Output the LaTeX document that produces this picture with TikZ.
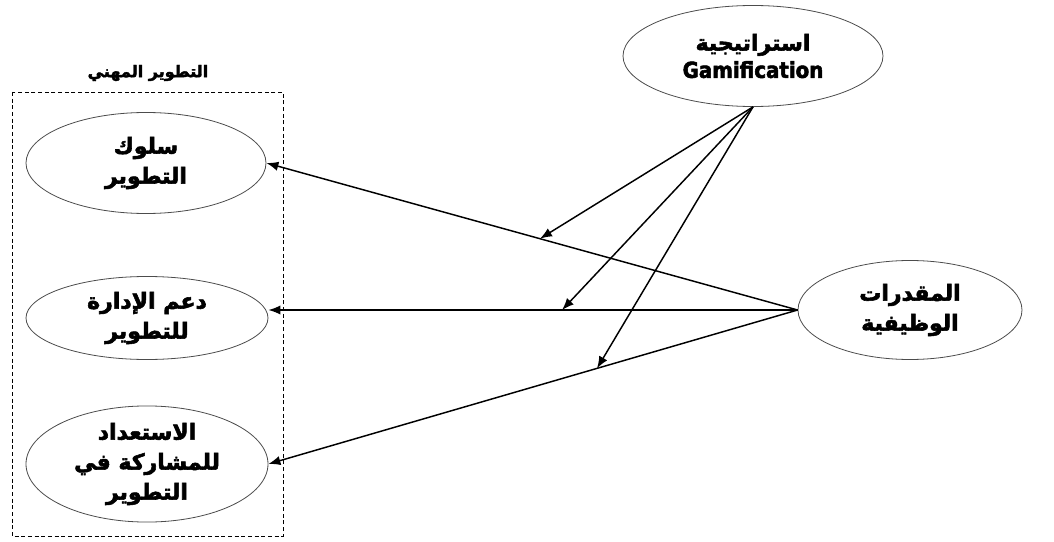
\documentclass[tikz,border=0pt]{standalone}
\usepackage{fontspec}
\usetikzlibrary{shapes.geometric,arrows.meta}
\TeXXeTstate=1
\newfontfamily\arabicfont[Script=Arabic,BoldFeatures={FakeBold=2.5}]{DejaVu Sans}
\newfontfamily\latinbold[BoldFeatures={FakeBold=2.5}]{DejaVu Sans Condensed}
\begin{document}
\begin{tikzpicture}[x=0.75pt,y=0.75pt,
  oval/.style={ellipse,draw=black!70,line width=0.6pt,inner sep=0pt,align=center,
    font=\arabicfont\bfseries\fontsize{16.5}{22.5}\selectfont},
  conn/.style={line width=1.1pt,-{Latex[length=9pt,width=7pt]}},
  grp/.style={draw,dash pattern=on 3pt off 2pt,line width=0.7pt}]
\path[use as bounding box,fill=white] (0,0) rectangle (1054,-542);
\draw[grp] (12,-92) rectangle (283,-536);
\node[font=\arabicfont\bfseries\fontsize{12}{14}\selectfont] (title) at (148,-73) {\beginR التطوير المهني\endR};
\node[oval,minimum width=195pt,minimum height=75.75pt] (g) at (753,-56)
  {\beginR استراتيجية\endR\\[-2pt]{\latinbold\bfseries Gamification}};
\node[oval,minimum width=168pt,minimum height=74.25pt] (m) at (910,-310)
  {\beginR المقدرات\endR\\\beginR الوظيفية\endR};
\node[oval,minimum width=180pt,minimum height=75.75pt] (e1) at (146,-163)
  {\beginR سلوك\endR\\\beginR التطوير\endR};
\node[oval,minimum width=181.5pt,minimum height=62.25pt] (e2) at (147,-318)
  {\beginR دعم الإدارة\endR\\\beginR للتطوير\endR};
\node[oval,minimum width=181.5pt,minimum height=76.5pt] (e3) at (147,-464)
  {\beginR الاستعداد\endR\\\beginR للمشاركة في\endR\\\beginR التطوير\endR};
\draw[conn] (m.west) -- (e1.east) coordinate[pos=0.485] (p1);
\draw[conn] (m.west) -- (e2.east |- m.west) coordinate[pos=0.445] (p2);
\draw[conn] (m.west) -- (e3.east) coordinate[pos=0.379] (p3);
\draw[conn] (g.south) -- (p1);
\draw[conn] (g.south) -- (p2);
\draw[conn] (g.south) -- (p3);
\end{tikzpicture}
\end{document}
